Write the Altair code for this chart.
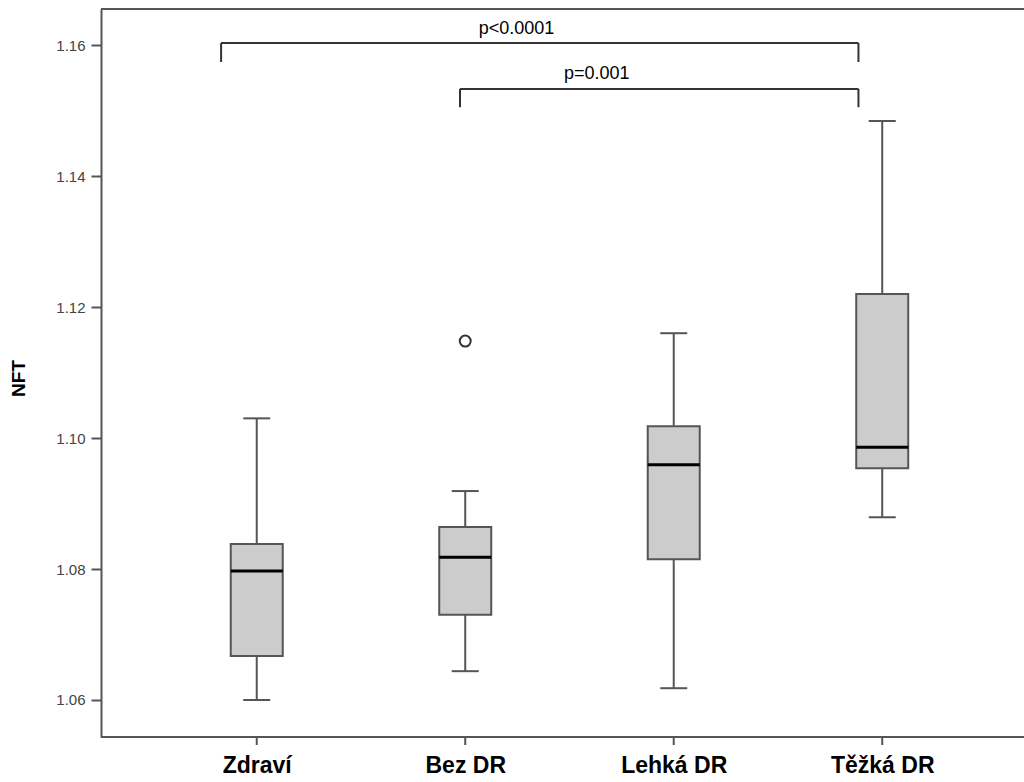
import json
import altair as alt
import pandas as pd

# ---- data ----
categories = ["Zdraví", "Bez DR", "Lehká DR", "Těžká DR"]
positions = [1, 2, 3, 4]
whisker_low = [1.0600, 1.0644, 1.0618, 1.0879]
q1 = [1.0667, 1.0730, 1.0815, 1.0954]
median = [1.0797, 1.0818, 1.0959, 1.0986]
q3 = [1.0838, 1.0864, 1.1018, 1.1220]
whisker_high = [1.1030, 1.0919, 1.1160, 1.1484]

outlier_pos = [2]
outlier_val = [1.1148]

y_ticks = [1.06, 1.08, 1.10, 1.12, 1.14, 1.16]

# significance brackets (segments: x, x2, y, y2)
br_x = [0.829, 0.829, 3.886, 1.975, 1.975, 3.886]
br_x2 = [3.886, 0.829, 3.886, 3.886, 1.975, 3.886]
br_y = [1.1603, 1.1603, 1.1603, 1.1533, 1.1533, 1.1533]
br_y2 = [1.1603, 1.1574, 1.1574, 1.1533, 1.1505, 1.1505]

p_text = ["p<0.0001", "p=0.001"]
p_x = [2.246, 2.631]
p_y = [1.1624, 1.1556]

# ---- tables ----
boxes = pd.DataFrame({
    "cat": categories, "pos": positions, "lo": whisker_low, "q1": q1,
    "med": median, "q3": q3, "hi": whisker_high,
})
outl = pd.DataFrame({"pos": outlier_pos, "val": outlier_val})
brackets = pd.DataFrame({"x": br_x, "x2": br_x2, "y": br_y, "y2": br_y2})
labels = pd.DataFrame({"t": p_text, "x": p_x, "y": p_y})

FONT = "Liberation Sans"
GREY = "#555555"
W = 923
H = 728

xscale = alt.Scale(domain=[0.277, 4.656], nice=False, zero=False)
yscale = alt.Scale(domain=[1.05435, 1.1655], nice=False, zero=False)

label_expr = json.dumps(categories) + "[datum.value - 1]"

X = alt.X("pos:Q", scale=xscale, axis=alt.Axis(
    values=positions, labelExpr=label_expr, title=None, domain=False,
    ticks=False, labelFont=FONT, labelFontSize=23, labelFontWeight="bold",
    labelColor="#000000", labelPadding=17, grid=False,
))
Y = alt.Y("lo:Q", scale=yscale, axis=alt.Axis(
    values=y_ticks, format=".2f", title="NFT",
    labelFont=FONT, labelFontSize=15, labelColor="#444444", labelPadding=6,
    tickSize=10, tickWidth=2, tickColor=GREY, domainColor=GREY,
    domainWidth=2, grid=False,
    titleFont=FONT, titleFontSize=19, titleFontWeight="bold",
    titleColor="#000000", titleX=-83, titleY=369, titleAlign="center",
    titleBaseline="middle", titleAngle=270,
))

base = alt.Chart(boxes)

whiskers = base.mark_rule(color=GREY, strokeWidth=2, opacity=1).encode(
    x=X, y=Y, y2="hi:Q")

xticks = base.mark_rule(color=GREY, strokeWidth=2).encode(
    x=alt.X("pos:Q", scale=xscale), y=alt.value(H), y2=alt.value(H + 8))

caps_lo = base.mark_tick(orient="horizontal", size=27, thickness=2,
                         color=GREY, opacity=1).encode(
    x=alt.X("pos:Q", scale=xscale), y=alt.Y("lo:Q", scale=yscale))
caps_hi = base.mark_tick(orient="horizontal", size=27, thickness=2,
                         color=GREY, opacity=1).encode(
    x=alt.X("pos:Q", scale=xscale), y=alt.Y("hi:Q", scale=yscale))

box = base.mark_bar(orient="vertical", size=52, fill="#cccccc",
                    stroke=GREY, strokeWidth=2, opacity=1).encode(
    x=alt.X("pos:Q", scale=xscale), y=alt.Y("q1:Q", scale=yscale), y2="q3:Q")

med = base.mark_tick(orient="horizontal", size=52, thickness=3,
                     color="#000000", opacity=1).encode(
    x=alt.X("pos:Q", scale=xscale), y=alt.Y("med:Q", scale=yscale))

pts = alt.Chart(outl).mark_point(shape="circle", size=120, filled=False,
                                 stroke="#333333", strokeWidth=2,
                                 opacity=1).encode(
    x=alt.X("pos:Q", scale=xscale), y=alt.Y("val:Q", scale=yscale))

br = alt.Chart(brackets).mark_rule(color="#333333", strokeWidth=2).encode(
    x=alt.X("x:Q", scale=xscale), x2="x2:Q",
    y=alt.Y("y:Q", scale=yscale), y2="y2:Q")

txt = alt.Chart(labels).mark_text(font=FONT, fontSize=18, color="#000000",
                                  align="center", baseline="middle").encode(
    x=alt.X("x:Q", scale=xscale), y=alt.Y("y:Q", scale=yscale), text="t:N")

top_border = alt.Chart(boxes).mark_rule(color=GREY, strokeWidth=2).encode(
    x=alt.value(0), x2=alt.value(W), y=alt.value(0), y2=alt.value(0))
bottom_border = alt.Chart(boxes).mark_rule(color=GREY, strokeWidth=2).encode(
    x=alt.value(0), x2=alt.value(W), y=alt.value(H), y2=alt.value(H))

chart = alt.layer(
    whiskers, xticks, caps_lo, caps_hi, box, med, pts, br, txt, top_border,
    bottom_border
).properties(
    width=W, height=H,
    autosize=alt.AutoSizeParams(type="none"),
    padding={"left": 101, "top": 9, "right": 0, "bottom": 45},
).configure_view(strokeWidth=0, stroke="transparent").configure(background="white")

chart.save("out.html", embed_options={"renderer": "svg", "actions": False})
